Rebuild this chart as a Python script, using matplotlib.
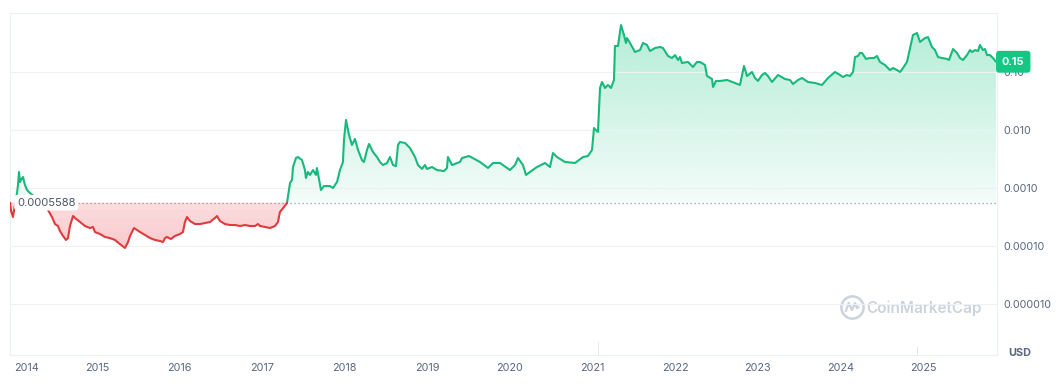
import numpy as np
import matplotlib
matplotlib.use("Agg")
import matplotlib.pyplot as plt
import matplotlib.transforms as mtransforms
from matplotlib.path import Path
from matplotlib.patches import PathPatch
from matplotlib.ticker import NullLocator

plt.rcParams['font.family'] = ['Inter', 'DejaVu Sans']

# ---------------- data ----------------
years = [
    2013.947, 2013.960, 2013.983, 2014.007, 2014.032, 2014.044, 2014.056, 2014.068, 2014.080, 2014.104,
    2014.128, 2014.153, 2014.189, 2014.250, 2014.310, 2014.370, 2014.407, 2014.455, 2014.492, 2014.528,
    2014.552, 2014.589, 2014.625, 2014.649, 2014.673, 2014.710, 2014.734, 2014.794, 2014.855, 2014.915,
    2014.951, 2014.976, 2015.036, 2015.097, 2015.157, 2015.218, 2015.278, 2015.339, 2015.376, 2015.400,
    2015.448, 2015.485, 2015.521, 2015.582, 2015.642, 2015.703, 2015.763, 2015.799, 2015.823, 2015.847,
    2015.896, 2015.944, 2016.005, 2016.041, 2016.065, 2016.090, 2016.126, 2016.186, 2016.247, 2016.307,
    2016.368, 2016.429, 2016.453, 2016.489, 2016.550, 2016.610, 2016.671, 2016.731, 2016.792, 2016.852,
    2016.913, 2016.949, 2016.973, 2017.034, 2017.094, 2017.155, 2017.191, 2017.215, 2017.264, 2017.300,
    2017.337, 2017.361, 2017.373, 2017.409, 2017.433, 2017.482, 2017.518, 2017.530, 2017.554, 2017.579,
    2017.615, 2017.651, 2017.663, 2017.712, 2017.748, 2017.821, 2017.857, 2017.906, 2017.942, 2017.978,
    2017.990, 2018.015, 2018.051, 2018.087, 2018.123, 2018.160, 2018.208, 2018.232, 2018.269, 2018.293,
    2018.341, 2018.390, 2018.426, 2018.462, 2018.511, 2018.547, 2018.584, 2018.620, 2018.644, 2018.668,
    2018.729, 2018.789, 2018.850, 2018.886, 2018.935, 2018.971, 2018.995, 2019.056, 2019.116, 2019.201,
    2019.237, 2019.249, 2019.298, 2019.395, 2019.419, 2019.504, 2019.637, 2019.734, 2019.794, 2019.879,
    2020.000, 2020.061, 2020.097, 2020.157, 2020.194, 2020.242, 2020.327, 2020.424, 2020.484, 2020.521,
    2020.569, 2020.666, 2020.787, 2020.884, 2020.944, 2020.993, 2021.017, 2021.065, 2021.090, 2021.114,
    2021.150, 2021.186, 2021.223, 2021.259, 2021.271, 2021.308, 2021.344, 2021.380, 2021.404, 2021.416,
    2021.453, 2021.513, 2021.574, 2021.610, 2021.659, 2021.695, 2021.755, 2021.816, 2021.852, 2021.913,
    2021.961, 2021.998, 2022.034, 2022.058, 2022.082, 2022.155, 2022.215, 2022.264, 2022.300, 2022.361,
    2022.385, 2022.446, 2022.458, 2022.494, 2022.542, 2022.627, 2022.724, 2022.784, 2022.833, 2022.869,
    2022.930, 2022.966, 2023.002, 2023.051, 2023.087, 2023.123, 2023.172, 2023.245, 2023.329, 2023.390,
    2023.426, 2023.487, 2023.535, 2023.608, 2023.692, 2023.777, 2023.850, 2023.935, 2023.995, 2024.031,
    2024.080, 2024.116, 2024.153, 2024.177, 2024.213, 2024.237, 2024.262, 2024.310, 2024.358, 2024.407,
    2024.443, 2024.479, 2024.540, 2024.576, 2024.600, 2024.637, 2024.685, 2024.722, 2024.758, 2024.806,
    2024.843, 2024.879, 2024.927, 2024.964, 2025.024, 2025.061, 2025.109, 2025.145, 2025.182, 2025.230,
    2025.291, 2025.315, 2025.364, 2025.412, 2025.448, 2025.484, 2025.533, 2025.569, 2025.593, 2025.630,
    2025.666, 2025.690, 2025.726, 2025.751, 2025.775, 2025.811, 2025.847, 2025.884,
]
prices = [
    0.0005588, 0.000401, 0.000316, 0.000509, 0.00082, 0.00113, 0.00189, 0.00127, 0.00137, 0.00155,
    0.00113, 0.000924, 0.00082, 0.00070, 0.000621, 0.000509, 0.000418, 0.000316, 0.000239, 0.000221,
    0.000181, 0.000149, 0.000127, 0.000137, 0.000221, 0.000329, 0.000304, 0.000259, 0.000221, 0.000204,
    0.000213, 0.000174, 0.000161, 0.000143, 0.000137, 0.000127, 0.000108, 0.0000924, 0.000117, 0.000149,
    0.000204, 0.000189, 0.000174, 0.000155, 0.000137, 0.000127, 0.000122, 0.000117, 0.000137, 0.000143,
    0.000132, 0.000149, 0.000161, 0.000174, 0.000259, 0.000316, 0.000270, 0.000239, 0.000239, 0.000249,
    0.000259, 0.000304, 0.000329, 0.000270, 0.000239, 0.000230, 0.000230, 0.000221, 0.000230, 0.000221,
    0.000221, 0.000239, 0.000221, 0.000213, 0.000204, 0.000221, 0.000259, 0.000385, 0.000470, 0.000551,
    0.00122, 0.00137, 0.00230, 0.00329, 0.00342, 0.00304, 0.00204, 0.00149, 0.00189, 0.00168,
    0.00204, 0.00168, 0.00221, 0.000924, 0.00108, 0.00108, 0.00100, 0.00127, 0.00204, 0.00281,
    0.00672, 0.0149, 0.0082, 0.00551, 0.0070, 0.00452, 0.00304, 0.00281, 0.00452, 0.00574,
    0.00418, 0.00342, 0.00281, 0.00249, 0.00270, 0.00342, 0.00249, 0.00239, 0.00551, 0.00621,
    0.00597, 0.00490, 0.00342, 0.00249, 0.00213, 0.00249, 0.00213, 0.00230, 0.00204, 0.00196,
    0.00221, 0.00342, 0.00249, 0.00281, 0.00329, 0.00356, 0.00281, 0.00221, 0.00270, 0.00270,
    0.00204, 0.00249, 0.00329, 0.00249, 0.00168, 0.00189, 0.00230, 0.00270, 0.00230, 0.00401,
    0.00342, 0.00281, 0.00270, 0.00342, 0.00356, 0.00452, 0.0108, 0.00924, 0.0530, 0.0672,
    0.0530, 0.0597, 0.0530, 0.0728, 0.281, 0.281, 0.645, 0.435, 0.316, 0.385,
    0.316, 0.221, 0.239, 0.316, 0.292, 0.230, 0.259, 0.270, 0.259, 0.189,
    0.174, 0.196, 0.161, 0.181, 0.143, 0.149, 0.122, 0.149, 0.149, 0.132,
    0.0853, 0.0757, 0.0551, 0.0700, 0.0700, 0.0728, 0.0646, 0.0597, 0.127, 0.0853,
    0.100, 0.0788, 0.0700, 0.0888, 0.0960, 0.0853, 0.0672, 0.0888, 0.0757, 0.0728,
    0.0621, 0.0728, 0.0788, 0.0672, 0.0646, 0.0597, 0.0788, 0.100, 0.0888, 0.0820,
    0.0888, 0.0853, 0.100, 0.181, 0.189, 0.213, 0.213, 0.168, 0.174, 0.174,
    0.189, 0.149, 0.132, 0.117, 0.108, 0.117, 0.108, 0.100, 0.117, 0.149,
    0.259, 0.435, 0.470, 0.330, 0.385, 0.400, 0.270, 0.239, 0.181, 0.174,
    0.168, 0.161, 0.249, 0.213, 0.174, 0.161, 0.196, 0.239, 0.221, 0.239,
    0.230, 0.292, 0.239, 0.249, 0.196, 0.196, 0.174, 0.150,
]
base_price = 0.0005588

vol_years = [2021.005, 2021.041, 2021.077, 2021.114, 2021.150, 2021.211, 2021.259, 2021.283, 2021.308,
             2021.344, 2021.368, 2021.392, 2021.429, 2021.477, 2021.598, 2021.634, 2021.804, 2022.821,
             2024.177, 2024.237, 2024.298, 2024.867, 2024.903, 2024.939, 2024.988, 2025.061, 2025.145,
             2025.388, 2025.509, 2025.630, 2025.751, 2025.836]
vol_values = [4.4, 8.8, 19, 10, 4.4, 6, 12, 37, 12,
              69, 15, 15, 7, 4.4, 12, 7, 7, 12,
              4.4, 4.4, 3, 22, 15, 12, 6, 9, 4.4,
              4.4, 6, 4.4, 6, 4.4]

year_ticks = list(range(2014, 2026))
year_labels = [str(y) for y in year_ticks]
price_ticks = [0.1, 0.01, 0.001, 0.0001, 0.00001]
price_tick_labels = ['0.10', '0.010', '0.0010', '0.00010', '0.000010']
current_label = '0.15'
base_label = '0.0005588'

GREEN = '#16c784'
LINE_GREEN = '#17b97c'
RED = '#e03a3e'
GRID = '#eff2f5'
TXT = '#58667e'

XMIN, XMAX = 2013.947, 2025.896
YMIN, YMAX = 1.32e-6, 1.04

# ---------------- figure ----------------
W, H = 1063, 391
fig = plt.figure(figsize=(W / 100, H / 100), dpi=100)
rect = [10 / W, 36 / H, 987 / W, 342 / H]

ax_v = fig.add_axes(rect, zorder=0)
ax = fig.add_axes(rect, zorder=1)
ax.patch.set_visible(False)

# volume bars
ax_v.bar(vol_years, vol_values, width=0.011, color='#e4e7ec', linewidth=0)
ax_v.set_xlim(XMIN, XMAX)
ax_v.set_ylim(0, max(vol_values) * 342 / 47)
ax_v.axis('off')

# insert baseline crossings (log space) so colours switch cleanly
t = np.asarray(years, float)
p = np.asarray(prices, float)
lp = np.log10(p)
lb = np.log10(base_price)
tt, pp = [t[0]], [p[0]]
for i in range(len(t) - 1):
    a, b = lp[i] - lb, lp[i + 1] - lb
    if a * b < 0:
        f = -a / (b - a)
        tt.append(t[i] + f * (t[i + 1] - t[i]))
        pp.append(base_price)
    tt.append(t[i + 1])
    pp.append(p[i + 1])
tt = np.array(tt)
pp = np.array(pp)
above = pp >= base_price * (1 - 1e-9)
below = pp <= base_price * (1 + 1e-9)

ax.set_yscale('log')
ax.set_xlim(XMIN, XMAX)
ax.set_ylim(YMIN, YMAX)
ax.set_autoscale_on(False)

span = np.log10(YMAX) - np.log10(YMIN)
base_frac = (np.log10(base_price) - np.log10(YMIN)) / span
top_frac = (np.log10(p.max()) - np.log10(YMIN)) / span
low_frac = (np.log10(p.min()) - np.log10(YMIN)) / span


def gradient_fill(where, color, a_hi, a_lo, f_lo, f_hi, hi_at_top=True):
    coll = ax.fill_between(tt, pp, base_price, where=where, facecolor='none',
                           edgecolor='none', interpolate=False)
    paths = coll.get_paths()
    coll.remove()
    if not paths:
        return
    comp = Path.make_compound_path(*paths)
    patch = PathPatch(comp, transform=ax.transData, facecolor='none', edgecolor='none')
    ax.add_patch(patch)
    rgb = matplotlib.colors.to_rgb(color)
    n = 256
    alphas = np.linspace(a_lo, a_hi, n) if hi_at_top else np.linspace(a_hi, a_lo, n)
    img = np.zeros((n, 1, 4))
    img[:, 0, :3] = rgb
    img[:, 0, 3] = alphas
    im = ax.imshow(img, extent=[0, 1, f_lo, f_hi], transform=ax.transAxes,
                   origin='lower', aspect='auto', interpolation='bilinear', zorder=1)
    im.set_clip_path(patch)


gradient_fill(above, GREEN, 0.32, 0.05, base_frac, top_frac, hi_at_top=True)
gradient_fill(below, '#ea3943', 0.27, 0.17, low_frac, base_frac, hi_at_top=False)

ax.plot(tt, np.where(above, pp, np.nan), color=LINE_GREEN, lw=1.5, zorder=3,
        solid_joinstyle='round', solid_capstyle='round')
ax.plot(tt, np.where(below, pp, np.nan), color=RED, lw=1.5, zorder=3,
        solid_joinstyle='round', solid_capstyle='round')

ax.axhline(base_price, color='#8a93a3', lw=0.9, linestyle=(0, (1, 2.2)), zorder=2)

# axes styling
for s in ax.spines.values():
    s.set_color('#eceff3')
    s.set_linewidth(0.8)
ax.grid(axis='y', which='major', color=GRID, lw=0.8, zorder=0)
ax.set_axisbelow(False)
ax.yaxis.tick_right()
ax.yaxis.set_minor_locator(NullLocator())
ax.set_yticks(price_ticks)
ax.set_yticklabels(price_tick_labels)
ax.set_xticks(year_ticks)
ax.set_xticklabels(year_labels)
ax.tick_params(axis='y', length=0, pad=4.5, labelsize=7.8, labelcolor=TXT)
ax.tick_params(axis='x', length=0, pad=5.8, labelsize=7.8, labelcolor=TXT)
ax.get_xticklabels()[0].set_ha('left')
for g in ax.get_ygridlines():
    g.set_zorder(2)

# labels
trans_b = mtransforms.blended_transform_factory(ax.transAxes, ax.transData)
ax.text(7 / 987, base_price, base_label, transform=trans_b, ha='left', va='center',
        fontsize=8.1, color='#4b5466', zorder=6,
        bbox=dict(boxstyle='round,pad=0.25,rounding_size=0.3', fc='white', ec='none'))
ax.text(1.0 + 5 / 987, prices[-1], current_label, transform=trans_b, ha='left', va='center',
        fontsize=7.8, color='white', fontweight='bold', zorder=6, clip_on=False,
        bbox=dict(boxstyle='round,pad=0.55,rounding_size=0.3', fc=GREEN, ec='none'))
fig.text(1020 / W, (H - 353) / H, 'USD', ha='center', va='center', fontsize=7.8,
         fontweight='bold', color=TXT)

# watermark
wm = '#cdd3dd'
ax.plot([(852 - 10) / 987], [(355 - 307) / 342], marker='o', ms=16, mfc='none', mec=wm,
        mew=1.8, transform=ax.transAxes, zorder=1, clip_on=False)
wave = Path([(-0.55, -0.35), (-0.3, 0.35), (-0.05, -0.2), (0.2, 0.35), (0.35, -0.05), (0.55, 0.1)])
ax.plot([(852 - 10) / 987], [(355 - 307) / 342], marker=wave, ms=10, mfc='none', mec=wm,
        mew=1.6, transform=ax.transAxes, zorder=1, clip_on=False)
ax.text((866 - 10) / 987, (355 - 308) / 342, 'CoinMarketCap', transform=ax.transAxes,
        ha='left', va='center', fontsize=11, fontweight='semibold', color=wm, zorder=1)

fig.savefig('out.png', dpi=100)
